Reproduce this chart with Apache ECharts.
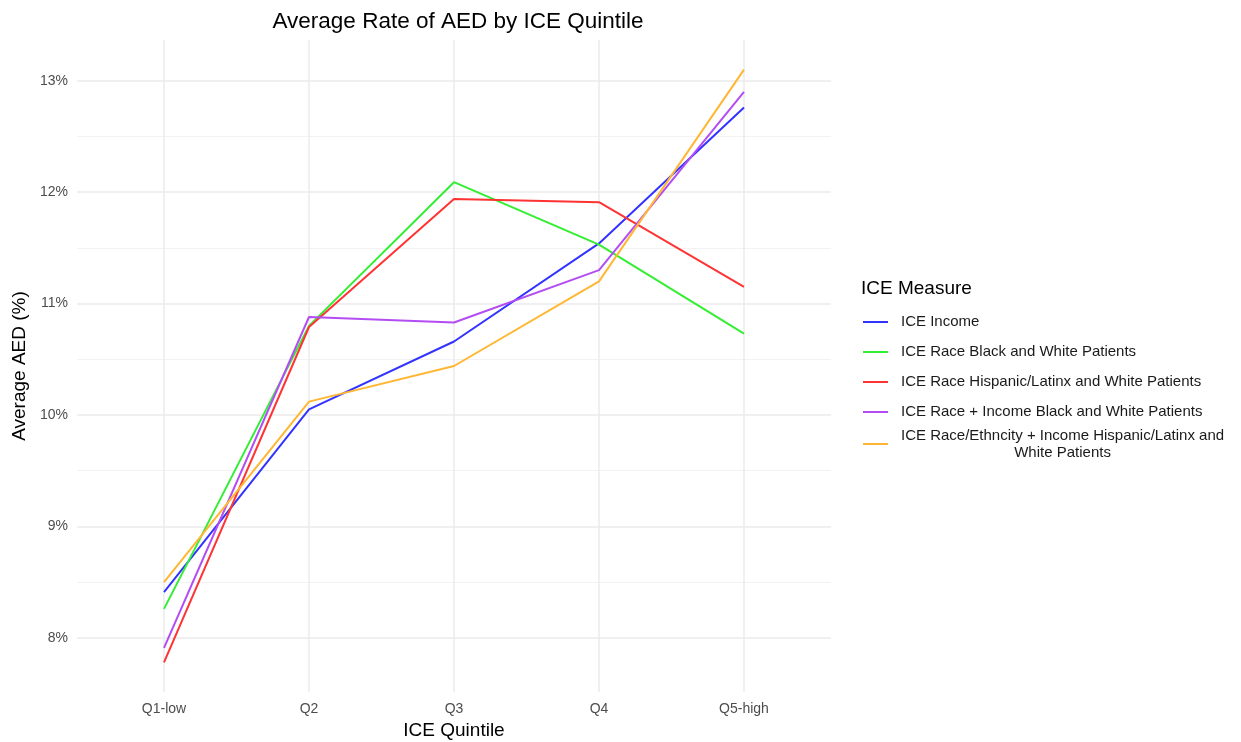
<!DOCTYPE html>
<html>
<head>
<meta charset="utf-8">
<title>Average Rate of AED by ICE Quintile</title>
<script src="https://cdn.jsdelivr.net/npm/echarts@6/dist/echarts.min.js"></script>
<style>
  html, body { margin: 0; padding: 0; background: #fff; }
  #chart { width: 1241px; height: 742px; }
</style>
</head>
<body>
<div id="chart"></div>
<script>
// ICE quintiles (x axis)
const categories = ['Q1-low', 'Q2', 'Q3', 'Q4', 'Q5-high'];
// average AED (%) per quintile
const iceIncome = [8.41, 10.05, 10.66, 11.54, 12.76];
const iceRaceBW = [8.26, 10.80, 12.09, 11.53, 10.73];
const iceRaceHL = [7.78, 10.79, 11.94, 11.91, 11.15];
const iceRaceIncomeBW = [7.91, 10.88, 10.83, 11.30, 12.90];
const iceRaceEthIncomeHL = [8.50, 10.12, 10.44, 11.20, 13.10];
// tick values
const yTicks = [8, 9, 10, 11, 12, 13];
const yMinorTicks = [8.5, 9.5, 10.5, 11.5, 12.5];

const seriesNames = [
  'ICE Income',
  'ICE Race Black and White Patients',
  'ICE Race Hispanic/Latinx and White Patients',
  'ICE Race + Income Black and White Patients',
  'ICE Race/Ethncity + Income Hispanic/Latinx and White Patients'
];
const seriesData = [iceIncome, iceRaceBW, iceRaceHL, iceRaceIncomeBW, iceRaceEthIncomeHL];
const colors = ['#3333ff', '#33ee33', '#ff3333', '#b34df3', '#ffb733'];

const xTicks = categories.map((c, i) => i);

let myChart = echarts.init(document.getElementById('chart'));
myChart.setOption({
  animation: false,
  color: colors,
  textStyle: { fontFamily: 'Liberation Sans, Arial, sans-serif' },
  title: [
    {
      text: 'Average Rate of AED by ICE Quintile',
      left: 453,
      textAlign: 'center',
      top: 5,
      textStyle: { fontSize: 22.5, fontWeight: 'normal', color: '#000' }
    },
    {
      text: 'ICE Measure',
      left: 856,
      top: 274,
      textStyle: { fontSize: 19, fontWeight: 'normal', color: '#000' }
    }
  ],
  legend: {
    orient: 'vertical',
    left: 858,
    top: 302,
    icon: 'rect',
    itemWidth: 25,
    itemHeight: 2,
    itemGap: 0,
    data: seriesNames,
    textStyle: {
      fontSize: 15,
      color: '#1a1a1a',
      lineHeight: 30,
      padding: [0, 0, 0, 8],
      rich: {
        a: { fontSize: 15, lineHeight: 17, color: '#1a1a1a' },
        b: { fontSize: 15, lineHeight: 17, color: '#1a1a1a', align: 'center' }
      }
    },
    formatter: function (name) {
      if (name.length > 50) {
        return '{a|ICE Race/Ethncity + Income Hispanic/Latinx and}\n{b|White Patients}';
      }
      return name;
    }
  },
  grid: {
    left: 77,
    right: 410,
    top: 40,
    bottom: 50,
    outerBoundsMode: 'none',
    containLabel: false
  },
  xAxis: {
    type: 'value',
    min: -0.6,
    max: 4.6,
    name: 'ICE Quintile',
    nameLocation: 'middle',
    nameGap: 24,
    nameTextStyle: { fontSize: 19, color: '#000' },
    axisLine: { show: false },
    axisTick: { show: false, customValues: xTicks },
    axisLabel: {
      customValues: xTicks,
      margin: 10,
      fontSize: 14,
      color: '#4d4d4d',
      formatter: v => categories[v]
    },
    splitLine: { show: true, lineStyle: { color: '#ebebeb', width: 1.5 } }
  },
  yAxis: [
    {
      type: 'value',
      min: 7.514,
      max: 13.366,
      name: 'Average AED (%)',
      nameLocation: 'middle',
      nameGap: 42,
      nameTextStyle: { fontSize: 19, color: '#000' },
      axisLine: { show: false },
      axisTick: { show: false, customValues: yTicks },
      axisLabel: {
        customValues: yTicks,
        margin: 9,
        fontSize: 14,
        color: '#4d4d4d',
        formatter: v => v + '%'
      },
      splitLine: { show: true, lineStyle: { color: '#ebebeb', width: 1.5 } }
    },
    {
      type: 'value',
      min: 7.514,
      max: 13.366,
      position: 'left',
      axisLine: { show: false },
      axisTick: { show: false, customValues: yMinorTicks },
      axisLabel: { show: false, customValues: yMinorTicks },
      splitLine: { show: true, lineStyle: { color: '#f2f2f2', width: 1 } }
    }
  ],
  series: seriesNames.map((name, k) => ({
    name: name,
    type: 'line',
    yAxisIndex: 0,
    showSymbol: false,
    symbol: 'none',
    lineStyle: { width: 2, color: colors[k] },
    itemStyle: { color: colors[k] },
    data: seriesData[k].map((v, i) => [i, v])
  }))
});
window.addEventListener('resize', myChart.resize);
</script>
</body>
</html>
